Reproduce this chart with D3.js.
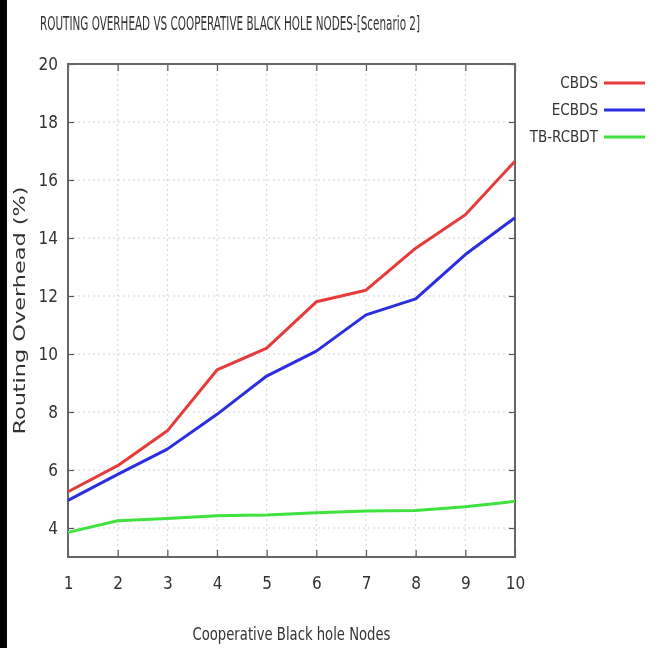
<!DOCTYPE html>
<html>
<head>
<meta charset="utf-8">
<script src="https://cdn.jsdelivr.net/npm/d3@7"></script>
<style>
  body { margin: 0; background: #fff; }
  svg { display: block; }
  text { font-family: "DejaVu Sans Condensed", "Liberation Sans Narrow", "DejaVu Sans", sans-serif; fill: #333; }
</style>
</head>
<body>
<svg id="chart"></svg>
<script>
var width = 664;
var height = 648;
var margin = {left: 68, right: 149, top: 64, bottom: 91};

var nodes = [1, 2, 3, 4, 5, 6, 7, 8, 9, 10];
var cbds = [5.25, 6.15, 7.35, 9.45, 10.2, 11.8, 12.2, 13.65, 14.8, 16.65];
var ecbds = [4.95, 5.85, 6.72, 7.92, 9.24, 10.1, 11.35, 11.9, 13.43, 14.7];
var tbrcbdt = [3.85, 4.25, 4.33, 4.42, 4.45, 4.53, 4.59, 4.6, 4.73, 4.92];
var seriesNames = ["CBDS", "ECBDS", "TB-RCBDT"];
var seriesColors = ["#e53a3a", "#2a2ee0", "#3fe23f"];
var yTicks = [4, 6, 8, 10, 12, 14, 16, 18, 20];

var series = [cbds, ecbds, tbrcbdt];

var svg = d3.select("#chart").attr("width", width).attr("height", height);

// soft blur, the original is a blurry bitmap
var defs = svg.append("defs");
defs.append("filter").attr("id", "soft")
    .append("feGaussianBlur").attr("stdDeviation", 0.6);

var root = svg.append("g").attr("filter", "url(#soft)");

root.append("rect").attr("x", 0).attr("y", 0).attr("width", width).attr("height", height).attr("fill", "#fff");
// black strip on the left edge
root.append("rect").attr("x", 0).attr("y", 0).attr("width", 7).attr("height", height).attr("fill", "#000");

var innerW = width - margin.left - margin.right;
var innerH = height - margin.top - margin.bottom;

var x = d3.scaleLinear().domain([1, 10]).range([0, innerW]);
var y = d3.scaleLinear().domain([3, 20]).range([innerH, 0]);

var g = root.append("g").attr("transform", "translate(" + margin.left + "," + margin.top + ")");

// grid
g.selectAll("line.gy").data(yTicks).enter().append("line")
    .attr("x1", 0).attr("x2", innerW)
    .attr("y1", function (d) { return y(d); }).attr("y2", function (d) { return y(d); })
    .attr("stroke", "#d4d4d4").attr("stroke-width", 1).attr("stroke-dasharray", "2,3");
g.selectAll("line.gx").data(nodes.slice(1, -1)).enter().append("line")
    .attr("y1", 0).attr("y2", innerH)
    .attr("x1", function (d) { return x(d); }).attr("x2", function (d) { return x(d); })
    .attr("stroke", "#d4d4d4").attr("stroke-width", 1).attr("stroke-dasharray", "2,3");

// axes with inward ticks (gnuplot style)
var yAxis = d3.axisLeft(y).tickValues(yTicks).tickSize(-6).tickPadding(10);
var xAxis = d3.axisBottom(x).tickValues(nodes).tickSize(-7).tickPadding(20);

g.append("g").attr("class", "ya").call(yAxis);
g.append("g").attr("class", "xa").attr("transform", "translate(0," + innerH + ")").call(xAxis);
g.append("g").attr("transform", "translate(" + innerW + ",0)")
    .call(d3.axisRight(y).tickValues(yTicks).tickSize(-6).tickFormat(""));
g.append("g")
    .call(d3.axisTop(x).tickValues(nodes).tickSize(-7).tickFormat(""));

g.selectAll(".domain").remove();
g.selectAll(".tick line").attr("stroke", "#555").attr("stroke-width", 1.2);
g.selectAll(".tick text").style("font-size", "17px").attr("fill", "#333");

// border
g.append("rect").attr("x", 0).attr("y", 0).attr("width", innerW).attr("height", innerH)
    .attr("fill", "none").attr("stroke", "#666").attr("stroke-width", 2);

// lines
var line = d3.line()
    .x(function (d, i) { return x(nodes[i]); })
    .y(function (d) { return y(d); });

series.forEach(function (s, i) {
    g.append("path").datum(s)
        .attr("fill", "none")
        .attr("stroke", seriesColors[i])
        .attr("stroke-width", 3)
        .attr("stroke-linejoin", "round")
        .attr("d", line);
});

// legend
var legend = root.append("g");
seriesNames.forEach(function (name, i) {
    var ly = 83 + i * 27;
    legend.append("text").attr("x", 598).attr("y", ly).attr("dy", "0.35em")
        .attr("text-anchor", "end").style("font-size", "15px").text(name);
    legend.append("line").attr("x1", 604).attr("x2", 645).attr("y1", ly).attr("y2", ly)
        .attr("stroke", seriesColors[i]).attr("stroke-width", 3);
});

// title and axis labels
root.append("text").attr("x", 40).attr("y", 30)
    .attr("textLength", 380).attr("lengthAdjust", "spacingAndGlyphs")
    .style("font-size", "19px")
    .text("ROUTING OVERHEAD VS COOPERATIVE BLACK HOLE NODES-[Scenario 2]");

root.append("text")
    .attr("transform", "translate(25," + (margin.top + innerH / 2) + ") rotate(-90)")
    .attr("text-anchor", "middle")
    .attr("textLength", 248).attr("lengthAdjust", "spacingAndGlyphs")
    .style("font-size", "16px")
    .text("Routing Overhead (%)");

root.append("text")
    .attr("x", margin.left + innerW / 2).attr("y", 640)
    .attr("text-anchor", "middle")
    .attr("textLength", 198).attr("lengthAdjust", "spacingAndGlyphs")
    .style("font-size", "17px")
    .text("Cooperative Black hole Nodes");
</script>
</body>
</html>
